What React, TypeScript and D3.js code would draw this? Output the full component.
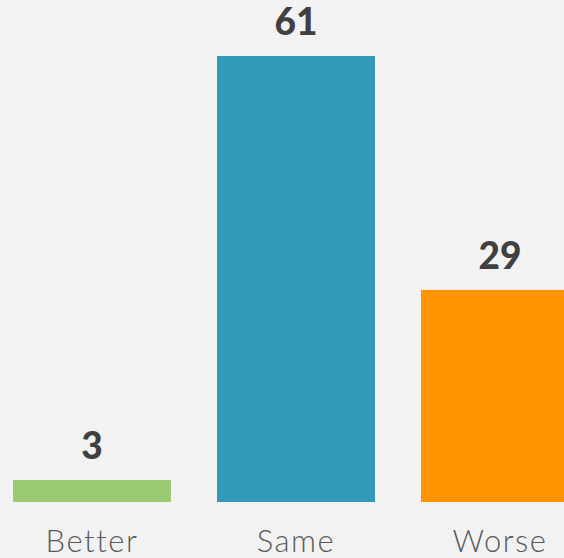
import React from "react";
import * as d3 from "d3";

const categories = ["Better", "Same", "Worse"];
const values = [3, 61, 29];
const colors = ["#9bca73", "#3399bb", "#ff9400"];

const W = 564;
const H = 558;

export default function App() {
  const x = d3.scaleBand<string>().domain(categories).range([13, 579]).paddingInner(46 / 204).paddingOuter(0);
  const y = d3.scaleLinear().domain([0, 61]).range([502, 56]);
  return (
    <svg width={W} height={H} style={{ position: "absolute", left: 0, top: 0, background: "#f2f2f2" }}>
      <rect x={0} y={0} width={W} height={H} fill="#f2f2f2" />
      {categories.map((c, i) => (
        <g key={c}>
          <rect x={x(c)} y={y(values[i])} width={x.bandwidth()} height={y(0) - y(values[i])} fill={colors[i]} />
          <text
            x={(x(c) as number) + x.bandwidth() / 2}
            y={y(values[i]) - 21}
            textAnchor="middle"
            fontFamily="Lato"
            fontWeight={900}
            fontSize={37}
            fill="#404040"
          >
            {values[i]}
          </text>
          <text
            x={(x(c) as number) + x.bandwidth() / 2}
            y={552}
            textAnchor="middle"
            fontFamily="Lato"
            fontWeight={300}
            fontSize={31}
            letterSpacing={1.5}
            fill="#5a5a5a"
          >
            {c}
          </text>
        </g>
      ))}
    </svg>
  );
}
